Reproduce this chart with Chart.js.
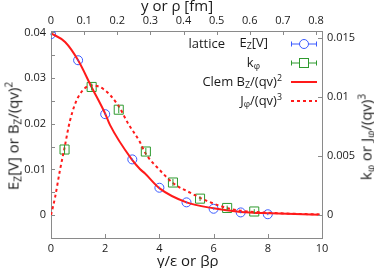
<!DOCTYPE html>
<html>
<head>
<meta charset="utf-8">
<script src="https://cdn.jsdelivr.net/npm/chart.js@4"></script>
<style>
body { margin: 0; background: #fff; }
#wrap { position: relative; width: 374px; height: 268px; font-family: "Open Sans", sans-serif; color: #1a1a1a; }
#c { position: absolute; left: 0; top: 0; }
.t { position: absolute; white-space: nowrap; font-size: 14px; line-height: 1; }
.lg { position: absolute; white-space: nowrap; font-size: 13px; line-height: 1; text-align: right; }
.rot { transform: translate(-50%, -50%) rotate(-90deg); }
sub { font-size: 68%; vertical-align: -0.25em; line-height: 0; }
sup { font-size: 68%; vertical-align: 0.55em; line-height: 0; }
</style>
</head>
<body>
<div id="wrap">
  <canvas id="c" width="374" height="268" style="width:374px;height:268px"></canvas>
  <div class="t" style="left:141px;top:-2px;font-size:15px">y or ρ [fm]</div>
  <div class="t" style="left:157px;top:253px;font-size:15px">y/ε or βρ</div>
  <div class="t rot" style="left:13px;top:136px;font-size:15px">E<sub>Z</sub>[V] or B<sub>Z</sub>/(qv)<sup>2</sup></div>
  <div class="t rot" style="left:366px;top:137px;font-size:15px">k<sub>φ</sub> or J<sub>φ</sub>/(qv)<sup>3</sup></div>
  <div class="lg" style="right:149px;top:37px">lattice</div>
  <div class="lg" style="right:106px;top:36px">E<sub>Z</sub>[V]</div>
  <div class="lg" style="right:114px;top:56px">k<sub>φ</sub></div>
  <div class="lg" style="right:92px;top:75px">Clem B<sub>Z</sub>/(qv)<sup>2</sup></div>
  <div class="lg" style="right:92px;top:94px">J<sub>φ</sub>/(qv)<sup>3</sup></div>
</div>
<script>
// lattice E_z (left axis) at y/eps = 0..8
const latticeX = [0, 1, 2, 3, 4, 5, 6, 7, 8];
const latticeEz = [0.0396, 0.0339, 0.0221, 0.0122, 0.0060, 0.0028, 0.0014, 0.0006, 0.0002];
const latticeEzErr = [0.0002, 0.0002, 0.0002, 0.0002, 0.0002, 0.0002, 0.0002, 0.0002, 0.0002];

// lattice k_phi (right axis)
const kphiX = [0.5, 1.5, 2.5, 3.5, 4.5, 5.5, 6.5, 7.5];
const kphi = [0.00556, 0.01087, 0.00894, 0.00539, 0.00276, 0.00139, 0.0006, 0.0003];
const kphiErr = [0.0004, 0.0003, 0.0003, 0.0003, 0.0003, 0.0002, 0.0002, 0.0002];

// Clem fit curves
const clemX = [0, 0.52, 1, 1.5, 2, 2.18, 2.98, 3.28, 3.47, 4.02, 5, 6, 7, 8.1, 9.9];
const clemBz = [0.0398, 0.0379, 0.0339, 0.0280, 0.0222, 0.0197, 0.0122, 0.0101, 0.0091, 0.0058, 0.0028, 0.0015, 0.0007, 0.0004, 0.0001];
const jphiX = [0, 0.15, 0.33, 0.49, 0.7, 1, 1.5, 1.93, 2.48, 2.85, 3.28, 3.47, 4.02, 4.51, 5.13, 5.75, 6.49, 7, 8, 9, 10];
const jphi = [0, 0.0015, 0.0038, 0.0056, 0.0080, 0.0100, 0.0110, 0.0107, 0.0093, 0.00775, 0.0062, 0.0053, 0.0038, 0.0027, 0.0019, 0.0012, 0.0006, 0.00037, 0.0002, 0.0001, 0.00005];

// top axis in fm
const fmTicks = [0, 0.1, 0.2, 0.3, 0.4, 0.5, 0.6, 0.7, 0.8];

const blue = '#3b5bff';
const green = '#2e9a2e';
const red = '#ff1a1a';
const axisGray = '#8a8a8a';

function pts(xs, ys) {
  return xs.map((x, i) => ({ x: x, y: ys[i] }));
}

const errorBars = {
  id: 'errorBars',
  afterDatasetsDraw(chart) {
    const ctx = chart.ctx;
    chart.data.datasets.forEach((ds, di) => {
      if (!ds.errors) return;
      const yScale = chart.scales[ds.yAxisID];
      const meta = chart.getDatasetMeta(di);
      ctx.save();
      ctx.strokeStyle = ds.borderColor;
      ctx.lineWidth = 1;
      meta.data.forEach((pt, i) => {
        const v = ds.data[i].y;
        const e = ds.errors[i];
        ctx.beginPath();
        ctx.moveTo(pt.x, yScale.getPixelForValue(v - e));
        ctx.lineTo(pt.x, yScale.getPixelForValue(v + e));
        ctx.stroke();
      });
      ctx.restore();
    });
  }
};

const inwardTicks = {
  id: 'inwardTicks',
  afterDraw(chart) {
    const ctx = chart.ctx;
    const a = chart.chartArea;
    ctx.save();
    ctx.strokeStyle = axisGray;
    ctx.lineWidth = 1;
    const s = chart.scales;
    ctx.beginPath();
    s.y.ticks.forEach(t => {
      const p = Math.round(s.y.getPixelForValue(t.value)) + 0.5;
      ctx.moveTo(a.left, p); ctx.lineTo(a.left + 4, p);
    });
    s.y2.ticks.forEach(t => {
      const p = Math.round(s.y2.getPixelForValue(t.value)) + 0.5;
      ctx.moveTo(a.right, p); ctx.lineTo(a.right - 4, p);
    });
    s.x.ticks.forEach(t => {
      const p = Math.round(s.x.getPixelForValue(t.value)) + 0.5;
      ctx.moveTo(p, a.bottom); ctx.lineTo(p, a.bottom - 4);
    });
    s.x2.ticks.forEach(t => {
      const p = Math.round(s.x2.getPixelForValue(t.value)) + 0.5;
      ctx.moveTo(p, a.top); ctx.lineTo(p, a.top + 4);
    });
    ctx.stroke();

    // legend symbols
    const x1 = 291, x2 = 317, xc = 304;
    function bar(y, col) {
      ctx.strokeStyle = col;
      ctx.lineWidth = 1;
      ctx.beginPath();
      ctx.moveTo(x1, y); ctx.lineTo(x2, y);
      ctx.moveTo(x1 + 0.5, y - 2.5); ctx.lineTo(x1 + 0.5, y + 2.5);
      ctx.moveTo(x2 - 0.5, y - 2.5); ctx.lineTo(x2 - 0.5, y + 2.5);
      ctx.stroke();
    }
    bar(44, blue);
    ctx.fillStyle = '#fff';
    ctx.beginPath(); ctx.arc(xc, 44, 4.5, 0, Math.PI * 2); ctx.fill(); ctx.stroke();
    bar(63, green);
    ctx.fillRect(xc - 4.5, 58.5, 9, 9); ctx.strokeRect(xc - 4.5, 58.5, 9, 9);
    ctx.strokeStyle = red;
    ctx.lineWidth = 2;
    ctx.beginPath(); ctx.moveTo(x1, 82); ctx.lineTo(x2, 82); ctx.stroke();
    ctx.setLineDash([3, 3]);
    ctx.beginPath(); ctx.moveTo(x1, 101); ctx.lineTo(x2, 101); ctx.stroke();
    ctx.restore();
  }
};

function near(v, step) {
  return Math.abs(v / step - Math.round(v / step)) < 1e-6;
}

const tickFont = { family: 'Open Sans', size: 11 };

new Chart(document.getElementById('c'), {
  type: 'scatter',
  data: {
    datasets: [
      {
        label: 'Clem Bz', type: 'line', data: pts(clemX, clemBz), yAxisID: 'y',
        borderColor: red, borderWidth: 2, pointRadius: 0, cubicInterpolationMode: 'monotone', fill: false
      },
      {
        label: 'Jphi', type: 'line', data: pts(jphiX, jphi), yAxisID: 'y2',
        borderColor: red, borderWidth: 2, borderDash: [3, 3], pointRadius: 0, cubicInterpolationMode: 'monotone', fill: false
      },
      {
        label: 'lattice Ez', data: pts(latticeX, latticeEz), errors: latticeEzErr, yAxisID: 'y',
        borderColor: blue, backgroundColor: 'rgba(0,0,0,0)', pointStyle: 'circle', pointRadius: 4.5, borderWidth: 1
      },
      {
        label: 'kphi', data: pts(kphiX, kphi), errors: kphiErr, yAxisID: 'y2',
        borderColor: green, backgroundColor: 'rgba(0,0,0,0)', pointStyle: 'rect', pointRadius: 6.4, borderWidth: 1
      }
    ]
  },
  options: {
    responsive: false,
    animation: false,
    layout: { padding: 0 },
    plugins: { legend: { display: false }, tooltip: { enabled: false } },
    scales: {
      x: {
        type: 'linear', position: 'bottom', min: 0, max: 10,
        afterFit: s => { s.height = 30; },
        grid: { drawOnChartArea: false, drawTicks: false },
        border: { color: axisGray },
        ticks: { stepSize: 2, padding: 4, color: '#1a1a1a', font: tickFont, maxRotation: 0 }
      },
      x2: {
        type: 'linear', position: 'top', min: 0, max: 0.818,
        afterFit: s => { s.height = 31; },
        afterBuildTicks: s => { s.ticks = fmTicks.map(v => ({ value: v })); },
        grid: { drawOnChartArea: false, drawTicks: false },
        border: { color: axisGray },
        ticks: { padding: 4, color: '#1a1a1a', font: tickFont, maxRotation: 0, callback: v => String(v) }
      },
      y: {
        type: 'linear', position: 'left', min: -0.005, max: 0.0403,
        afterFit: s => { s.width = 51; },
        grid: { drawOnChartArea: false, drawTicks: false },
        border: { color: axisGray },
        ticks: {
          stepSize: 0.005, includeBounds: false, padding: 5, color: '#1a1a1a', font: tickFont,
          callback: v => (v >= -1e-9 && near(v, 0.01)) ? String(Math.round(v * 100) / 100) : ''
        }
      },
      y2: {
        type: 'linear', position: 'right', min: -0.00195, max: 0.01562,
        afterFit: s => { s.width = 52; },
        grid: { drawOnChartArea: false, drawTicks: false },
        border: { color: axisGray },
        ticks: {
          stepSize: 0.005, includeBounds: false, padding: 5, color: '#1a1a1a', font: tickFont,
          callback: v => (v >= -1e-9 && near(v, 0.005)) ? String(Math.round(v * 1000) / 1000) : ''
        }
      }
    }
  },
  plugins: [errorBars, inwardTicks]
});
</script>
</body>
</html>
